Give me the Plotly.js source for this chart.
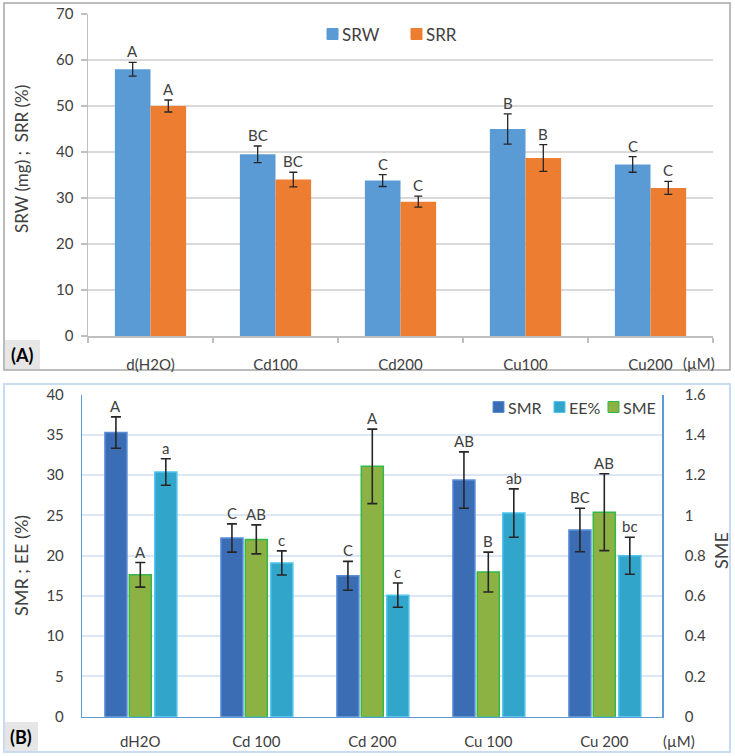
<!DOCTYPE html>
<html>
<head>
<meta charset="utf-8">
<script src="https://cdn.plot.ly/plotly-3.0.1.min.js"></script>
<style>html,body{margin:0;padding:0;background:#fff;overflow:hidden;}#chart{width:735px;height:756px;}</style>
</head>
<body>
<div id="chart"></div>
<script>
// ---- Panel A data ----
const categoriesA = ['d(H2O)', 'Cd100', 'Cd200', 'Cu100', 'Cu200'];
const srw = [58.0, 39.5, 33.8, 45.0, 37.3];
const srwErr = [1.5, 1.8, 1.3, 3.3, 1.7];
const srr = [50.0, 34.0, 29.2, 38.7, 32.2];
const srrErr = [1.3, 1.6, 1.2, 2.9, 1.4];
const srwLetters = ['A', 'BC', 'C', 'B', 'C'];
const srrLetters = ['A', 'BC', 'C', 'B', 'C'];
const yTicksA = [0, 10, 20, 30, 40, 50, 60, 70];

// ---- Panel B data ----
const categoriesB = ['dH2O', 'Cd 100', 'Cd 200', 'Cu 100', 'Cu 200'];
const smr = [35.3, 22.2, 17.5, 29.4, 23.2];
const smrErr = [1.95, 1.75, 1.8, 3.5, 2.7];
const ee = [30.4, 19.1, 15.1, 25.3, 20.0];
const eeErr = [1.65, 1.5, 1.5, 3.0, 2.3];
const sme = [0.705, 0.881, 1.244, 0.719, 1.016];
const smeErr = [0.061, 0.072, 0.185, 0.099, 0.191];
const smrLetters = ['A', 'C', 'C', 'AB', 'BC'];
const smeLetters = ['A', 'AB', 'A', 'B', 'AB'];
const eeLetters = ['a', 'c', 'c', 'ab', 'bc'];

const W = 735, H = 756;
const px = v => v / W;
const py = v => 1 - v / H;
const FONT = 'Lato, "Open Sans", sans-serif';
const TXT = '#404040';

const wA = 0.285;
const wB = 0.19;
const offB = {smr: -0.305, sme: -0.095, ee: 0.125};

const COL = {
  SRW: {fill: '#5B9BD5', line: '#5B9BD5'},
  SRR: {fill: '#ED7D31', line: '#ED7D31'},
  SMR: {fill: '#3A6DB3', line: '#5A8DD8'},
  SME: {fill: '#8DB244', line: '#33B84A'},
  'EE%': {fill: '#32A5CA', line: '#4CC4EE'}
};

function errObj(arr, thick, width) {
  return {type: 'data', array: arr, visible: true, color: '#262626', thickness: thick, width: width};
}

const traces = [
  {type: 'bar', name: 'SRW', x: categoriesA, y: srw, width: wA, offset: -wA,
   marker: {color: COL.SRW.fill}, error_y: errObj(srwErr, 1.3, 4), xaxis: 'x', yaxis: 'y'},
  {type: 'bar', name: 'SRR', x: categoriesA, y: srr, width: wA, offset: 0,
   marker: {color: COL.SRR.fill}, error_y: errObj(srrErr, 1.3, 4), xaxis: 'x', yaxis: 'y'},
  {type: 'bar', name: 'SMR', x: categoriesB, y: smr, width: wB, offset: offB.smr,
   marker: {color: COL.SMR.fill, line: {color: COL.SMR.line, width: 1.5}}, error_y: errObj(smrErr, 1.6, 5),
   xaxis: 'x2', yaxis: 'y2'},
  {type: 'bar', name: 'SME', x: categoriesB, y: sme, width: wB, offset: offB.sme,
   marker: {color: COL.SME.fill, line: {color: COL.SME.line, width: 1.5}}, error_y: errObj(smeErr, 1.6, 5),
   xaxis: 'x2', yaxis: 'y3'},
  {type: 'bar', name: 'EE%', x: categoriesB, y: ee, width: wB, offset: offB.ee,
   marker: {color: COL['EE%'].fill, line: {color: COL['EE%'].line, width: 1.5}}, error_y: errObj(eeErr, 1.6, 5),
   xaxis: 'x2', yaxis: 'y2'}
];

const annotations = [];
function addLetters(letters, vals, errs, off, w, xref, yref) {
  letters.forEach((t, i) => {
    annotations.push({text: t, x: i + off + w / 2, y: vals[i] + errs[i], xref: xref, yref: yref,
      xanchor: 'center', yanchor: 'bottom', yshift: 0, showarrow: false,
      font: {family: FONT, size: 15, color: TXT}});
  });
}
addLetters(srwLetters, srw, srwErr, -wA, wA, 'x', 'y');
addLetters(srrLetters, srr, srrErr, 0, wA, 'x', 'y');
addLetters(smrLetters, smr, smrErr, offB.smr, wB, 'x2', 'y2');
addLetters(smeLetters, sme, smeErr, offB.sme, wB, 'x2', 'y3');
addLetters(eeLetters, ee, eeErr, offB.ee, wB, 'x2', 'y2');

annotations.push(
  {text: 'SRW (mg) ;  SRR (%)', xref: 'paper', yref: 'paper', x: px(21), y: py(159), textangle: -90,
   showarrow: false, xanchor: 'center', yanchor: 'middle', font: {family: FONT, size: 17, color: TXT}},
  {text: 'SMR ; EE (%)', xref: 'paper', yref: 'paper', x: px(21), y: py(566), textangle: -90,
   showarrow: false, xanchor: 'center', yanchor: 'middle', font: {family: FONT, size: 18, color: TXT}},
  {text: 'SME', xref: 'paper', yref: 'paper', x: px(721), y: py(551), textangle: -90,
   showarrow: false, xanchor: 'center', yanchor: 'middle', font: {family: FONT, size: 18, color: TXT}},
  {text: '(µM)', xref: 'paper', yref: 'paper', x: px(699), y: py(363),
   showarrow: false, xanchor: 'center', yanchor: 'middle', font: {family: FONT, size: 15, color: TXT}},
  {text: '(µM)', xref: 'paper', yref: 'paper', x: px(679), y: py(741),
   showarrow: false, xanchor: 'center', yanchor: 'middle', font: {family: FONT, size: 15, color: TXT}},
  {text: '<b>(A)</b>', xref: 'paper', yref: 'paper', x: px(22), y: py(355),
   showarrow: false, xanchor: 'center', yanchor: 'middle', font: {family: FONT, size: 18, color: '#000'}},
  {text: '<b>(B)</b>', xref: 'paper', yref: 'paper', x: px(21), y: py(737),
   showarrow: false, xanchor: 'center', yanchor: 'middle', font: {family: FONT, size: 18, color: '#000'}}
);

const shapes = [
  {type: 'rect', xref: 'paper', yref: 'paper', x0: px(4), x1: px(730), y0: py(370), y1: py(3),
   line: {color: '#a6a6a6', width: 1.5}, fillcolor: 'rgba(0,0,0,0)', layer: 'below'},
  {type: 'rect', xref: 'paper', yref: 'paper', x0: px(4), x1: px(730), y0: py(752), y1: py(384),
   line: {color: '#c9dbf2', width: 2}, fillcolor: 'rgba(0,0,0,0)', layer: 'below'},
  {type: 'rect', xref: 'paper', yref: 'paper', x0: px(5), x1: px(40), y0: py(369), y1: py(340),
   line: {width: 0}, fillcolor: '#e6e6e6', layer: 'below'},
  {type: 'rect', xref: 'paper', yref: 'paper', x0: px(5), x1: px(38), y0: py(751), y1: py(722),
   line: {width: 0}, fillcolor: '#e6e6e6', layer: 'below'}
];

// legend keys (square + label), laid out like the original chart's legend
const legendKeys = [
  {name: 'SRW', x: 327, y: 34, size: 11, font: 17},
  {name: 'SRR', x: 411, y: 34, size: 11, font: 17},
  {name: 'SMR', x: 493, y: 407, size: 11, font: 16},
  {name: 'EE%', x: 554, y: 407, size: 11, font: 16},
  {name: 'SME', x: 608, y: 407, size: 11, font: 16}
];
legendKeys.forEach(k => {
  const c = COL[k.name];
  shapes.push({type: 'rect', xref: 'paper', yref: 'paper',
    x0: px(k.x), x1: px(k.x + k.size), y0: py(k.y + k.size / 2), y1: py(k.y - k.size / 2),
    line: {color: c.line, width: 1}, fillcolor: c.fill});
  annotations.push({text: k.name, xref: 'paper', yref: 'paper', x: px(k.x + k.size + 2), y: py(k.y),
    xanchor: 'left', yanchor: 'middle', showarrow: false, font: {family: FONT, size: k.font, color: TXT}});
});

const tickFont = {family: FONT, size: 15, color: TXT};

const layout = {
  width: W, height: H,
  margin: {l: 0, r: 0, t: 0, b: 0, autoexpand: false},
  paper_bgcolor: '#ffffff', plot_bgcolor: 'rgba(0,0,0,0)',
  barmode: 'overlay',
  showlegend: false,
  font: {family: FONT, color: TXT},
  xaxis: {domain: [px(88), px(713)], anchor: 'y', type: 'category', range: [-0.5, 4.5],
    showline: true, linecolor: '#bfbfbf', linewidth: 1.5, ticks: 'outside', tickson: 'boundaries',
    ticklen: 5, tickcolor: '#bfbfbf', tickwidth: 1.5, tickfont: tickFont, ticklabelstandoff: 14,
    showgrid: false, zeroline: false, fixedrange: true},
  yaxis: {domain: [py(336), py(14)], anchor: 'x', range: [0, 70], tickvals: yTicksA,
    showline: true, linecolor: '#bfbfbf', linewidth: 1.5, ticks: 'outside', ticklen: 6,
    tickcolor: '#bfbfbf', tickwidth: 1.5, tickfont: tickFont, ticklabelstandoff: 4,
    showgrid: true, gridcolor: '#d9d9d9', gridwidth: 2, zeroline: false, fixedrange: true},
  xaxis2: {domain: [px(82.3), px(662.3)], anchor: 'y2', type: 'category', range: [-0.5, 4.5],
    showline: true, linecolor: '#5B9BD5', linewidth: 1.5, ticks: '', tickfont: tickFont,
    ticklabelstandoff: 11, showgrid: false, zeroline: false, fixedrange: true},
  yaxis2: {domain: [py(716.7), py(394.7)], anchor: 'x2', range: [0, 40], dtick: 5,
    showline: true, linecolor: '#5B9BD5', linewidth: 1.5, ticks: '', tickfont: tickFont,
    ticklabelstandoff: 14, showgrid: true, gridcolor: '#dce6f4', gridwidth: 2, zeroline: false, fixedrange: true},
  yaxis3: {overlaying: 'y2', side: 'right', anchor: 'x2', range: [0, 1.6], dtick: 0.2,
    showline: true, linecolor: '#5B9BD5', linewidth: 1.5, ticks: '', tickfont: tickFont,
    ticklabelstandoff: 18, showgrid: false, zeroline: false, fixedrange: true},
  annotations: annotations,
  shapes: shapes
};

Plotly.newPlot('chart', traces, layout, {staticPlot: true, displayModeBar: false});
</script>
</body>
</html>
